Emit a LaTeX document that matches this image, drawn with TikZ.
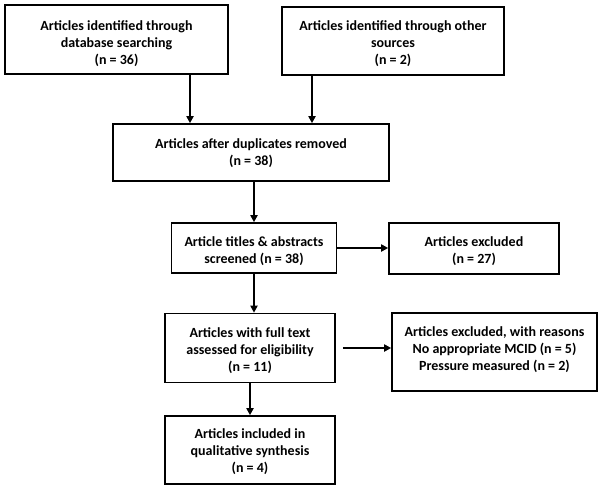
\documentclass[tikz,border=0pt]{standalone}
\usepackage{fontspec}
\setmainfont{Carlito}
\usetikzlibrary{arrows.meta,calc}
\begin{document}
\begin{tikzpicture}[x=1pt,y=-1pt,
  box/.style={draw=black,line width=1.6pt,fill=white,inner sep=0pt},
  txt/.style={align=center,inner sep=0pt,font=\fontsize{14}{17}\selectfont\bfseries},
  arr/.style={line width=1.8pt,-{Triangle[length=7pt,width=7pt]}}]
\useasboundingbox (0,0) rectangle (600,487);
\node[box,minimum width=223pt,minimum height=69pt] (b1) at (116.5,39.5) {};
\node[box,minimum width=222pt,minimum height=68pt] (b2) at (393,41) {};
\node[box,minimum width=276pt,minimum height=57pt] (b3) at (251,152.5) {};
\node[box,minimum width=165pt,minimum height=50pt] (b4) at (254,248) {};
\node[box,minimum width=170pt,minimum height=51pt] (b5) at (474,248.5) {};
\node[box,minimum width=170pt,minimum height=69pt] (b6) at (250,348) {};
\node[box,minimum width=205pt,minimum height=78pt] (b7) at (494.5,352) {};
\node[box,minimum width=170pt,minimum height=68pt] (b8) at (250,450) {};
\node[txt] (t1) at (116.5,44) {Articles identified through\\database searching\\(n = 36)};
\node[txt] (t2) at (393,44) {Articles identified through other\\sources\\(n = 2)};
\node[txt] (t3) at (251,153) {Articles after duplicates removed\\(n = 38)};
\node[txt] (t4) at (254,251) {Article titles \& abstracts\\screened (n = 38)};
\node[txt] (t5) at (474,251.5) {Articles excluded\\(n = 27)};
\node[txt] (t6) at (250,350.5) {Articles with full text\\assessed for eligibility\\(n = 11)};
\node[txt] (t7) at (494.5,350) {Articles excluded, with reasons\\No appropriate MCID (n = 5)\\Pressure measured (n = 2)};
\node[txt] (t8) at (250,452) {Articles included in\\qualitative synthesis\\(n = 4)};
\draw[arr] ([xshift=73.5pt]b1.south) -- ([xshift=73.5pt]b1.south |- b3.north);
\draw[arr] ([xshift=-81pt]b2.south) -- ([xshift=-81pt]b2.south |- b3.north);
\draw[arr] (b3.south -| b4.north) -- (b4.north);
\draw[arr] (b4.east) -- (b4.east -| b5.west);
\draw[arr] (b4.south) -- (b4.south |- b6.north);
\draw[arr] ([xshift=7pt]b6.east) -- (b6.east -| b7.west);
\draw[arr] (b6.south) -- (b8.north);
\end{tikzpicture}
\end{document}
